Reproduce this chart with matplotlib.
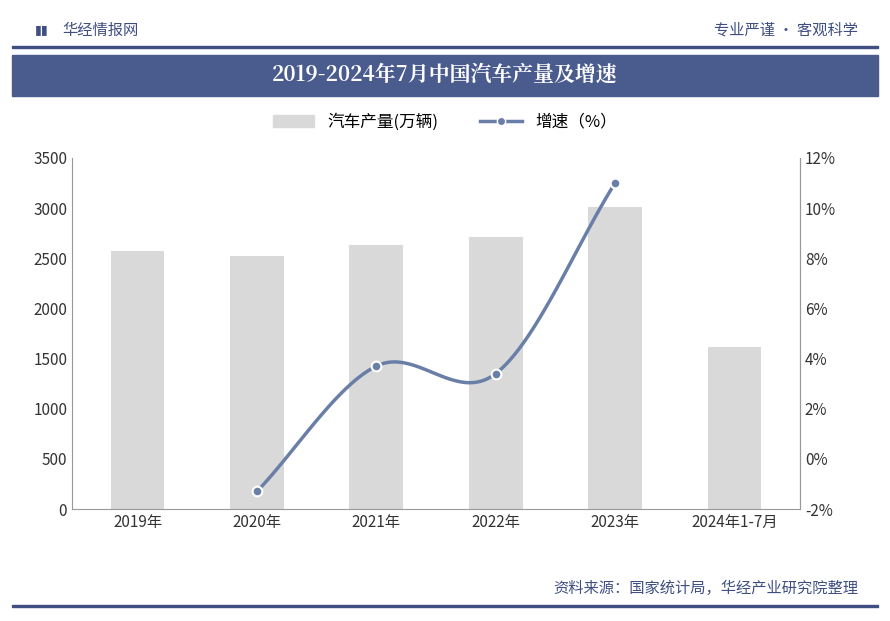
import matplotlib
matplotlib.use("Agg")
import matplotlib.pyplot as plt
import numpy as np
from matplotlib.patches import Rectangle

plt.rcParams["font.family"] = ["Noto Sans CJK SC", "DejaVu Sans"]

categories = ["2019年", "2020年", "2021年", "2022年", "2023年", "2024年1-7月"]
production = [2572, 2523, 2628, 2712, 3016, 1618]
growth_x = [1, 2, 3, 4]
growth = [-1.3, 3.7, 3.4, 11.0]
left_ticks = [0, 500, 1000, 1500, 2000, 2500, 3000, 3500]
right_ticks = [-2, 0, 2, 4, 6, 8, 10, 12]

W, H = 890, 621
fig = plt.figure(figsize=(W/100, H/100), dpi=100)
fig.patch.set_facecolor("white")

def fx(x): return x / W
def fy(y): return 1 - y / H

# header
fig.add_artist(Rectangle((fx(12), fy(48)), fx(866), 1.0/H*2, color="#3f4f82", transform=fig.transFigure))
fig.add_artist(Rectangle((fx(12), fy(96)), fx(866), (96-55)/H, color="#4a5b8e", transform=fig.transFigure))
fig.text(fx(35), fy(30), "▮▮", color="#3f4f82", fontsize=9, va="center")
fig.text(fx(62), fy(30), "华经情报网", color="#3f4f82", fontsize=11, va="center")
fig.text(fx(858), fy(30), "专业严谨 • 客观科学", color="#3f4f82", fontsize=11, va="center", ha="right")
fig.text(0.5, fy(75), "2019-2024年7月中国汽车产量及增速", color="white", fontsize=15, fontweight="bold",
         va="center", ha="center", fontfamily=["Noto Serif CJK SC", "Noto Sans CJK SC"])
# footer
fig.text(fx(858), fy(588), "资料来源：国家统计局，华经产业研究院整理", color="#3f4f82", fontsize=11, va="center", ha="right")
fig.add_artist(Rectangle((fx(12), fy(607)), fx(866), 2.0/H, color="#3f4f82", transform=fig.transFigure))

ax = fig.add_axes([fx(72), fy(509), fx(800-72), (509-158)/H])
x = np.arange(len(categories))
ax.bar(x, production, width=0.45, color="#d9d9d9", label="汽车产量(万辆)")
ax.set_ylim(0, 3500)
ax.set_xlim(-0.55, len(categories)-0.45)
ax.set_yticks(left_ticks)
ax.set_xticks(x)
ax.set_xticklabels(categories)
ax.tick_params(axis="both", labelsize=11, length=0, colors="#333333")
ax.spines["top"].set_visible(False)
for s in ["bottom", "left", "right"]:
    ax.spines[s].set_color("#999999")

ax2 = ax.twinx()
ax2.set_ylim(-2, 12)
ax2.set_yticks(right_ticks)
ax2.set_yticklabels([f"{t}%" for t in right_ticks])
ax2.tick_params(labelsize=11, length=0, colors="#333333")
for s in ["top", "left", "bottom"]:
    ax2.spines[s].set_visible(False)
ax2.spines["right"].set_color("#999999")

# smooth curve (Catmull-Rom) through data points
px = np.array(growth_x, float); py = np.array(growth, float)
P = np.vstack([px, py]).T
P = np.vstack([2*P[0]-P[1], P, 2*P[-1]-P[-2]])
cx, cy = [], []
for i in range(1, len(P)-2):
    p0, p1, p2, p3 = P[i-1], P[i], P[i+1], P[i+2]
    t = np.linspace(0, 1, 40)[:, None]
    c = 0.5*((2*p1) + (-p0+p2)*t + (2*p0-5*p1+4*p2-p3)*t**2 + (-p0+3*p1-3*p2+p3)*t**3)
    cx.extend(c[:, 0]); cy.extend(c[:, 1])
ax2.plot(cx, cy, color="#6a7fa8", lw=2.5)
ax2.plot(px, py, "o", color="#6a7fa8", ms=7, mec="white", mew=1.5)

from matplotlib.lines import Line2D
h1 = Rectangle((0, 0), 1, 1, color="#d9d9d9")
h2 = Line2D([0], [0], color="#6a7fa8", lw=2.5, marker="o", ms=6, mec="white")
fig.legend([h1, h2], ["汽车产量(万辆)", "增速（%）"], loc="center", bbox_to_anchor=(0.5, fy(122)),
           ncol=2, frameon=False, fontsize=12, handlelength=2.5, columnspacing=2.5)

fig.savefig("out.png", dpi=100)
